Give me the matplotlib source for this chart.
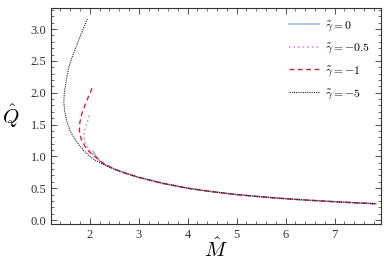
from matplotlib import pyplot as plt
from matplotlib.ticker import MultipleLocator

plt.rcParams['font.family'] = ['Liberation Serif', 'DejaVu Serif']
plt.rcParams['mathtext.fontset'] = 'cm'

# shared tail of all curves
tail_m = [2.5, 2.75, 3.0, 3.5, 4.0, 4.5, 5.0, 5.5, 6.0, 6.5, 7.0, 7.5, 7.85]
tail_q = [0.80, 0.73, 0.67, 0.575, 0.50, 0.445, 0.40, 0.365, 0.335, 0.31, 0.288, 0.268, 0.256]

m_g0 = [2.07, 2.12, 2.2, 2.3] + tail_m
q_g0 = [1.08, 1.01, 0.93, 0.875] + tail_q

m_g05 = [1.99, 1.94, 1.89, 1.88, 1.91, 1.96, 2.03, 2.12, 2.2, 2.3] + tail_m
q_g05 = [1.64, 1.52, 1.40, 1.30, 1.20, 1.12, 1.06, 1.00, 0.935, 0.875] + tail_q

m_g1 = [2.05, 1.98, 1.90, 1.83, 1.79, 1.79, 1.83, 1.90, 1.97, 2.05, 2.15, 2.3] + tail_m
q_g1 = [2.07, 1.95, 1.80, 1.65, 1.50, 1.38, 1.26, 1.16, 1.09, 1.03, 0.97, 0.88] + tail_q

m_g5 = [1.95, 1.85, 1.755, 1.66, 1.578, 1.52, 1.48, 1.47, 1.49, 1.54, 1.60, 1.68,
        1.77, 1.88, 2.0, 2.1, 2.2, 2.3] + tail_m
q_g5 = [3.16, 2.97, 2.79, 2.60, 2.42, 2.20, 2.00, 1.85, 1.70, 1.53, 1.40, 1.29,
        1.19, 1.09, 1.00, 0.945, 0.905, 0.865] + tail_q

labels = [r'$\tilde{\gamma} = 0$', r'$\tilde{\gamma} = -0.5$', r'$\tilde{\gamma} = -1$', r'$\tilde{\gamma} = -5$']

fig = plt.figure(figsize=(3.9, 2.68), dpi=100)
ax = fig.add_axes([0.131, 0.164, 0.846, 0.806])

ax.plot(m_g0, q_g0, color='#9fb6d6', lw=1.1, label=labels[0])
ax.plot(m_g05, q_g05, color='#d77fd0', lw=1.1, ls=(0, (1, 2)), label=labels[1])
ax.plot(m_g1, q_g1, color='#d81e3c', lw=1.0, ls=(0, (3.5, 2.5)), label=labels[2])
ax.plot(m_g5, q_g5, color='#222222', lw=0.8, ls=(0, (1, 1)), label=labels[3])

ax.set_xlim(1.21, 7.95)
ax.set_ylim(-0.063, 3.33)
ax.xaxis.set_major_locator(MultipleLocator(1))
ax.xaxis.set_minor_locator(MultipleLocator(0.2))
ax.yaxis.set_major_locator(MultipleLocator(0.5))
ax.yaxis.set_minor_locator(MultipleLocator(0.1))
ax.yaxis.set_major_formatter(plt.FuncFormatter(lambda v, p: '%.1f' % v))
ax.tick_params(which='both', direction='in', top=True, right=True, labelsize=9, colors='#333333')
ax.tick_params(which='major', length=4, width=0.6)
ax.tick_params(which='minor', length=2, width=0.5)
for s in ax.spines.values():
    s.set_linewidth(0.8)
    s.set_color('#333333')

ax.set_xlabel(r'$\hat{M}$', fontsize=15, labelpad=-2)
ax.set_ylabel(r'$\hat{Q}$', fontsize=15, rotation=0, labelpad=14, va='center')

ax.legend(loc='upper right', frameon=False, fontsize=8.5, handlelength=2.6,
          handletextpad=0.5, labelspacing=0.75, borderaxespad=0.5)

fig.savefig('out.png', dpi=100)
